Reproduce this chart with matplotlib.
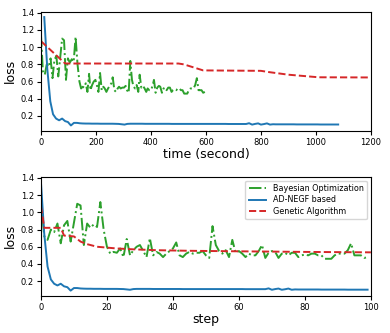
import matplotlib
matplotlib.use("Agg")
import matplotlib.pyplot as plt

# ---------------- data ----------------
bo_loss = [1.15, 0.72, 0.68, 0.80, 0.77, 0.87, 0.64, 0.85, 0.90, 0.66,
           0.88, 1.10, 1.08, 0.62, 0.87, 0.82, 0.86, 0.83, 1.12, 0.80,
           0.60, 0.52, 0.54, 0.53, 0.58, 0.48, 0.69, 0.50, 0.56, 0.60,
           0.62, 0.55, 0.48, 0.70, 0.50, 0.54, 0.52, 0.48, 0.52, 0.55,
           0.58, 0.65, 0.50, 0.48, 0.52, 0.54, 0.52, 0.53, 0.53, 0.55,
           0.50, 0.47, 0.84, 0.62, 0.55, 0.52, 0.56, 0.48, 0.68, 0.53,
           0.55, 0.52, 0.48, 0.52, 0.50, 0.50, 0.55, 0.62, 0.47, 0.53,
           0.55, 0.54, 0.47, 0.52, 0.53, 0.50, 0.53, 0.53, 0.48, 0.50,
           0.51, 0.50, 0.52, 0.52, 0.50, 0.50, 0.46, 0.46, 0.46, 0.50,
           0.52, 0.52, 0.52, 0.56, 0.64, 0.50, 0.50, 0.50, 0.47, 0.48]
bo_step = list(range(len(bo_loss)))
bo_time = [0, 7, 14, 21, 28, 35, 42, 49, 56, 63, 70, 77, 84, 91, 98, 105, 112, 119, 126, 133, 140,
           146, 152, 157, 163, 169, 175, 180, 186, 192, 198,
           204, 209, 215, 221, 227, 232, 238, 244, 250, 256,
           261, 267, 273, 279, 284, 290, 296, 302, 308, 313,
           319, 325, 331, 336, 342, 348, 354, 359, 365, 371,
           377, 383, 388, 394, 400, 406, 411, 417, 423, 429,
           434, 440, 446, 452, 457, 463, 469, 475, 480, 486,
           492, 498, 504, 509, 515, 521, 527, 532, 538, 544,
           550, 555, 561, 567, 573, 578, 584, 590, 596]

ad_loss = [1.35, 0.75, 0.37, 0.22, 0.17, 0.15, 0.17, 0.14, 0.13, 0.09,
           0.12, 0.12, 0.115, 0.113, 0.112, 0.112, 0.111, 0.111, 0.111, 0.110,
           0.110, 0.110, 0.110, 0.110, 0.109, 0.108, 0.104, 0.100, 0.108, 0.110,
           0.110, 0.110, 0.110, 0.110, 0.109, 0.109, 0.109, 0.109, 0.109, 0.109,
           0.109, 0.109, 0.109, 0.108, 0.108, 0.108, 0.108, 0.108, 0.108, 0.108,
           0.108, 0.108, 0.108, 0.108, 0.108, 0.108, 0.108, 0.108, 0.108, 0.108,
           0.108, 0.108, 0.107, 0.107, 0.107, 0.107, 0.107, 0.107, 0.107, 0.116,
           0.100, 0.108, 0.114, 0.100, 0.106, 0.114, 0.100, 0.104, 0.103, 0.103,
           0.103, 0.103, 0.103, 0.103, 0.103, 0.102, 0.102, 0.102, 0.102, 0.102,
           0.102, 0.102, 0.102, 0.101, 0.101, 0.101, 0.101, 0.101, 0.101, 0.101]
ad_step = list(range(len(ad_loss)))
ad_time = [12, 23, 34, 44, 55, 66, 77, 88, 98, 109,
           120, 131, 142, 152, 163, 174, 185, 196, 206, 217,
           228, 239, 250, 260, 271, 282, 293, 304, 314, 325,
           336, 347, 358, 368, 379, 390, 401, 412, 422, 433,
           444, 455, 466, 476, 487, 498, 509, 520, 530, 541,
           552, 563, 574, 584, 595, 606, 617, 628, 638, 649,
           660, 671, 682, 692, 703, 714, 725, 736, 746, 757,
           768, 779, 790, 800, 811, 822, 833, 844, 854, 865,
           876, 887, 898, 908, 919, 930, 941, 952, 962, 973,
           984, 995, 1006, 1016, 1027, 1038, 1049, 1060, 1070, 1081]

ga_time = [0, 88, 500, 520, 590, 800, 830, 900, 1010, 1200]
ga_time_loss = [1.07, 0.81, 0.81, 0.80, 0.73, 0.725, 0.71, 0.68, 0.65, 0.648]
ga_step = [0, 1, 6, 7, 10, 12, 14, 17, 20, 23, 28, 35, 45, 60, 80, 100]
ga_step_loss = [1.07, 0.82, 0.82, 0.73, 0.72, 0.66, 0.63, 0.60, 0.59, 0.58,
                0.57, 0.56, 0.553, 0.547, 0.54, 0.535]

labels = ["Bayesian Optimization", "AD-NEGF based", "Genetic Algorithm"]
c_bo, c_ad, c_ga = "#2ca02c", "#1f77b4", "#d62728"

# ---------------- figure ----------------
fig = plt.figure(figsize=(3.9, 3.33), dpi=100)
ax1 = fig.add_axes([0.105, 0.607, 0.846, 0.358])
ax2 = fig.add_axes([0.105, 0.111, 0.846, 0.358])

ax1.plot(bo_time, bo_loss, color=c_bo, ls="-.", lw=1.4, label=labels[0])
ax1.plot(ad_time, ad_loss, color=c_ad, ls="-", lw=1.4, label=labels[1])
ax1.plot(ga_time, ga_time_loss, color=c_ga, ls="--", lw=1.4, label=labels[2])
ax1.set_xlim(0, 1200)
ax1.set_xlabel("time (second)", fontsize=9, labelpad=1)
ax1.set_ylabel("loss", fontsize=9, labelpad=3)

ax2.plot(bo_step, bo_loss, color=c_bo, ls="-.", lw=1.4, label=labels[0])
ax2.plot(ad_step, ad_loss, color=c_ad, ls="-", lw=1.4, label=labels[1])
ax2.plot(ga_step, ga_step_loss, color=c_ga, ls="--", lw=1.4, label=labels[2])
ax2.set_xlim(0, 100)
ax2.set_xlabel("step", fontsize=9, labelpad=1)
ax2.set_ylabel("loss", fontsize=9, labelpad=3)
ax2.legend(loc="upper right", fontsize=5.8, handlelength=2.2, borderpad=0.4,
           labelspacing=0.3)

for ax in (ax1, ax2):
    ax.set_yticks([0.2, 0.4, 0.6, 0.8, 1.0, 1.2, 1.4])
    ax.tick_params(labelsize=6, length=3, pad=2)

fig.savefig("out.png", dpi=100)
